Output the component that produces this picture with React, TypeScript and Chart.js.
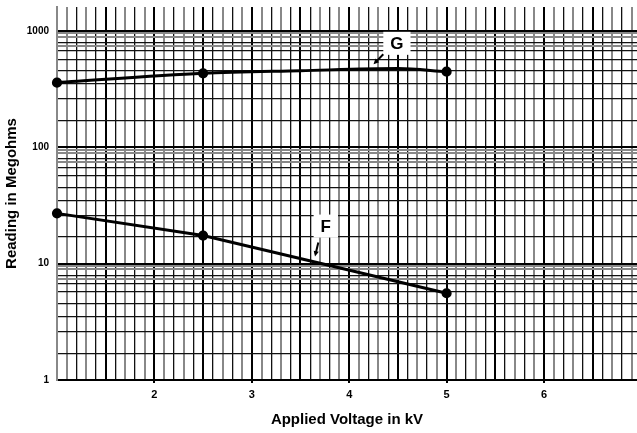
import React, { useEffect, useRef } from "react";
import { Chart, registerables } from "chart.js";

Chart.register(...registerables);

// ---- data ----
const voltageG = [1, 2.5, 3.5, 4.5, 5];
const readingG = [358, 431, 454, 474, 445];
const markersG = [true, true, false, false, true];
const voltageF = [1, 2.5, 5];
const readingF = [27, 17.4, 5.56];

const yDecades = [1, 10, 100, 1000];
const yMinorSteps = [1.7, 2.6, 3.5, 4.5, 5.7, 6.7, 7.4, 7.9, 8.9, 9.5];
const yLabelValues = [1, 10, 100, 1000];
const xLabelValues = [2, 3, 4, 5, 6];

const xMin = 1;
const xMax = 6.955;
const yMin = 1;
const yMax = 1600;

const annotationTexts = ["G", "F"];
const annotationAt = [
  [4.49, 780],
  [3.76, 21],
];
const arrowFrom = [
  [4.35, 628],
  [3.683, 15.2],
];
const arrowTo = [
  [4.25, 515],
  [3.649, 11.5],
];

const FONT = "'Liberation Sans', Arial, Helvetica, sans-serif";

function buildYTicks(): number[] {
  const vals: number[] = [];
  for (const d of yDecades) {
    if (d <= yMax) vals.push(d);
    if (d < 1000) for (const m of yMinorSteps) vals.push(d * m);
  }
  return vals.filter((v) => v >= yMin && v <= yMax).sort((a, b) => a - b);
}

function buildXTicks(): number[] {
  const vals: number[] = [];
  for (let i = 10; i < 70; i++) vals.push(i / 10);
  return vals;
}

const annotationPlugin = {
  id: "curveLabels",
  afterDatasetsDraw(chart: any) {
    const { ctx } = chart;
    const xs = chart.scales.x;
    const ys = chart.scales.y;
    ctx.save();
    annotationTexts.forEach((t, i) => {
      const cx = xs.getPixelForValue(annotationAt[i][0]);
      const cy = ys.getPixelForValue(annotationAt[i][1]);
      ctx.font = `bold 17px ${FONT}`;
      const w = ctx.measureText(t).width + 14;
      const h = 23;
      ctx.fillStyle = "#fff";
      ctx.fillRect(cx - w / 2, cy - h / 2, w, h);
      ctx.fillStyle = "#000";
      ctx.textAlign = "center";
      ctx.textBaseline = "middle";
      ctx.fillText(t, cx, cy + 1);

      const x1 = xs.getPixelForValue(arrowFrom[i][0]);
      const y1 = ys.getPixelForValue(arrowFrom[i][1]);
      const x2 = xs.getPixelForValue(arrowTo[i][0]);
      const y2 = ys.getPixelForValue(arrowTo[i][1]);
      const ang = Math.atan2(y2 - y1, x2 - x1);
      const hl = 6;
      ctx.strokeStyle = "#000";
      ctx.lineWidth = 2;
      ctx.beginPath();
      ctx.moveTo(x1, y1);
      ctx.lineTo(x2 - Math.cos(ang) * 3, y2 - Math.sin(ang) * 3);
      ctx.stroke();
      ctx.beginPath();
      ctx.moveTo(x2, y2);
      ctx.lineTo(x2 - hl * Math.cos(ang - 0.45), y2 - hl * Math.sin(ang - 0.45));
      ctx.lineTo(x2 - hl * Math.cos(ang + 0.45), y2 - hl * Math.sin(ang + 0.45));
      ctx.closePath();
      ctx.fill();
    });
    ctx.restore();
  },
};

export default function App() {
  const ref = useRef<HTMLCanvasElement | null>(null);

  useEffect(() => {
    if (!ref.current) return;
    const yTicks = buildYTicks();
    const xTicks = buildXTicks();
    const chart = new Chart(ref.current, {
      type: "line",
      data: {
        datasets: [
          {
            label: "G",
            data: voltageG.map((v, i) => ({ x: v, y: readingG[i] })),
            borderColor: "#000",
            backgroundColor: "#000",
            borderWidth: 3,
            pointRadius: markersG.map((m) => (m ? 3.6 : 0)),
            pointHoverRadius: 0,
            cubicInterpolationMode: "monotone",
            clip: false,
          } as any,
          {
            label: "F",
            data: voltageF.map((v, i) => ({ x: v, y: readingF[i] })),
            borderColor: "#000",
            backgroundColor: "#000",
            borderWidth: 3,
            pointRadius: 3.6,
            pointHoverRadius: 0,
            tension: 0,
            clip: false,
          } as any,
        ],
      },
      options: {
        responsive: false,
        animation: false,
        events: [],
        layout: { autoPadding: false, padding: { top: 7, right: 0, left: 0, bottom: 0 } },
        plugins: { legend: { display: false }, tooltip: { enabled: false } },
        scales: {
          x: {
            type: "linear",
            min: xMin,
            max: xMax,
            afterBuildTicks: (s: any) => {
              s.ticks = xTicks.map((v) => ({ value: v }));
            },
            afterFit: (s: any) => {
              s.height = 53;
              s.paddingLeft = 0;
              s.paddingRight = 0;
            },
            ticks: {
              autoSkip: false,
              maxRotation: 0,
              padding: 0,
              color: "#000",
              font: { family: FONT, size: 11, weight: "bold", lineHeight: "24px" },
              callback: (v: any) => {
                const n = Math.round(Number(v) * 10) / 10;
                return xLabelValues.includes(n) ? String(n) : "";
              },
            },
            grid: {
              color: (c: any) => {
                const t = Math.round((c.tick?.value ?? 0) * 10);
                if (t % 5 === 0) return "#000";
                return t % 2 ? "#888" : "#111";
              },
              lineWidth: (c: any) => {
                const t = Math.round((c.tick?.value ?? 0) * 10);
                if (t % 5 === 0) return 2;
                return t % 2 ? 2 : 1.3;
              },
              tickLength: 3,
              tickWidth: 2,
              tickColor: (c: any) => {
                const v = c.tick?.value ?? 0;
                return Math.abs(v - Math.round(v)) < 1e-6 && v > 1 ? "#000" : "rgba(0,0,0,0)";
              },
            },
            border: { display: true, color: "#000", width: 2 },
            title: {
              display: true,
              text: "Applied Voltage in kV",
              color: "#000",
              font: { family: FONT, size: 15, weight: "bold" },
              padding: { top: 0, bottom: 4 },
            },
          },
          y: {
            type: "logarithmic",
            min: yMin,
            max: yMax,
            afterBuildTicks: (s: any) => {
              s.ticks = yTicks.map((v) => ({ value: v }));
            },
            afterFit: (s: any) => {
              s.width = 57;
              s.paddingTop = 0;
              s.paddingBottom = 0;
            },
            ticks: {
              autoSkip: false,
              padding: 8,
              color: "#000",
              font: { family: FONT, size: 10, weight: "bold" },
              callback: (v: any) => {
                const n = Number(v);
                return yLabelValues.some((d) => Math.abs(d - n) < 1e-6) ? String(n) : "";
              },
            },
            grid: {
              drawTicks: false,
              color: (c: any) => {
                const v = c.tick?.value ?? 1;
                const m = v / Math.pow(10, Math.floor(Math.log10(v) + 1e-9));
                if (Math.abs(m - 1) < 1e-6) return "#000";
                if (m > 8.5 || (m > 7.2 && m < 7.6)) return "#888";
                return "#111";
              },
              lineWidth: (c: any) => {
                const v = c.tick?.value ?? 1;
                const m = v / Math.pow(10, Math.floor(Math.log10(v) + 1e-9));
                if (Math.abs(m - 1) < 1e-6) return 2;
                if (m > 8.5 || (m > 7.2 && m < 7.6)) return 2;
                return 1.3;
              },
            },
            border: { display: true, color: "#888", width: 2 },
            title: {
              display: true,
              text: "Reading in Megohms",
              color: "#000",
              font: { family: FONT, size: 15, weight: "bold" },
              padding: { top: 3, bottom: 0 },
            },
          },
        },
      },
      plugins: [annotationPlugin],
    });
    return () => chart.destroy();
  }, []);

  return (
    <div style={{ position: "absolute", left: 0, top: 0, width: 637, height: 433, background: "#fff" }}>
      <canvas ref={ref} width={637} height={433} />
    </div>
  );
}
